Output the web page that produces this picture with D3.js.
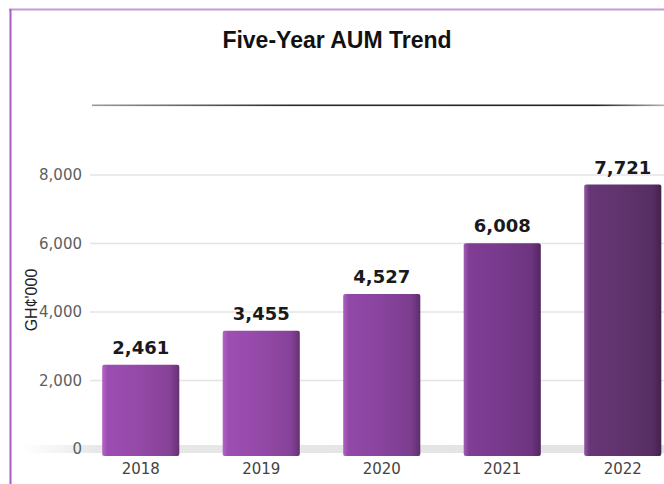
<!DOCTYPE html>
<html>
<head>
<meta charset="utf-8">
<script src="https://cdn.jsdelivr.net/npm/d3@7"></script>
<style>
  body { margin: 0; background: #fff; }
  svg { display: block; }
</style>
</head>
<body>
<div id="chart"></div>
<script>
// data
const years = ["2018", "2019", "2020", "2021", "2022"];
const aum = [2461, 3455, 4527, 6008, 7721];
const yTicks = [0, 2000, 4000, 6000, 8000];

// bar tones get darker to the right
const barTones = ["#9549a8", "#954aa9", "#8a449f", "#793a8d", "#61336f"];

const width = 664;
const height = 484;
const margin = { top: 175, bottom: 35, left: 90, right: 0 };

const svg = d3.select("#chart")
  .append("svg")
  .attr("width", width)
  .attr("height", height);

const defs = svg.append("defs");

// x and y scales
const x = d3.scaleBand()
  .domain(years)
  .range([80.5, 683])
  .paddingInner(0.36)
  .paddingOuter(0.18);

const y = d3.scaleLinear()
  .domain([0, 8000])
  .range([height - margin.bottom, margin.top]);

// frame lines (top and left)
svg.append("line")
  .attr("x1", 9).attr("x2", width)
  .attr("y1", 9.5).attr("y2", 9.5)
  .attr("stroke", "#c39bd0").attr("stroke-width", 2);
svg.append("line")
  .attr("x1", 10.5).attr("x2", 10.5)
  .attr("y1", 9).attr("y2", height)
  .attr("stroke", "#a65ec2").attr("stroke-width", 2);

// title
svg.append("text")
  .attr("x", 337)
  .attr("y", 48)
  .attr("text-anchor", "middle")
  .attr("font-family", "Liberation Sans, Arial, sans-serif")
  .attr("font-weight", "bold")
  .attr("font-size", "23px")
  .attr("fill", "#111")
  .text("Five-Year AUM Trend");

// separator line under title
const sep = defs.append("linearGradient").attr("id", "sep");
sep.append("stop").attr("offset", "0%").attr("stop-color", "#9a9a9a");
sep.append("stop").attr("offset", "35%").attr("stop-color", "#2a2a2a");
sep.append("stop").attr("offset", "88%").attr("stop-color", "#222");
sep.append("stop").attr("offset", "100%").attr("stop-color", "#b0b0b0");
svg.append("rect")
  .attr("x", 92).attr("y", 104.5)
  .attr("width", width - 92).attr("height", 1.6)
  .attr("fill", "url(#sep)");

// grid lines
svg.append("g")
  .selectAll("line")
  .data(yTicks.filter(d => d > 0))
  .join("line")
  .attr("x1", margin.left).attr("x2", width)
  .attr("y1", d => y(d)).attr("y2", d => y(d))
  .attr("stroke", "#e4e4e4")
  .attr("stroke-width", 1.5);

// floor shadow
const floor = defs.append("linearGradient").attr("id", "floor");
floor.append("stop").attr("offset", "0%").attr("stop-color", "#dcdcdc").attr("stop-opacity", 0);
floor.append("stop").attr("offset", "12%").attr("stop-color", "#d8d8d8").attr("stop-opacity", 1);
floor.append("stop").attr("offset", "100%").attr("stop-color", "#d0d0d0").attr("stop-opacity", 1);
svg.append("rect")
  .attr("x", 20).attr("y", y(0) - 4)
  .attr("width", width - 20).attr("height", 8)
  .attr("fill", "url(#floor)")
  .attr("opacity", 0.6);

// one gradient per bar for the shaded look
barTones.forEach((c, i) => {
  const g = defs.append("linearGradient").attr("id", "bar" + i);
  const base = d3.color(c);
  g.append("stop").attr("offset", "0%").attr("stop-color", d3.interpolateRgb(c, "#e090f0")(0.4));
  g.append("stop").attr("offset", "7%").attr("stop-color", base.brighter(0.15));
  g.append("stop").attr("offset", "45%").attr("stop-color", c);
  g.append("stop").attr("offset", "88%").attr("stop-color", base.darker(0.3));
  g.append("stop").attr("offset", "100%").attr("stop-color", base.darker(1.1));
});

const depth = 7;

svg.append("g")
  .selectAll("rect")
  .data(aum)
  .join("rect")
  .attr("x", (d, i) => x(years[i]))
  .attr("y", d => y(d))
  .attr("width", x.bandwidth())
  .attr("height", d => y(0) - y(d) + depth)
  .attr("rx", 2)
  .attr("fill", (d, i) => `url(#bar${i})`);

// value labels
svg.append("g")
  .selectAll("text")
  .data(aum)
  .join("text")
  .attr("x", (d, i) => x(years[i]) + x.bandwidth() / 2)
  .attr("y", d => y(d) - 11)
  .attr("text-anchor", "middle")
  .attr("font-family", "DejaVu Sans, sans-serif")
  .attr("font-weight", "bold")
  .attr("font-size", "18px")
  .attr("fill", "#1a1a1a")
  .text(d => d3.format(",")(d));

// y axis
function yAxis(g) {
  g.attr("transform", `translate(82, 0)`)
    .call(d3.axisLeft(y).tickValues(yTicks).tickFormat(d3.format(",")).tickSize(0).tickPadding(0))
    .call(g => g.select(".domain").remove())
    .selectAll("text")
    .attr("font-family", "DejaVu Sans, sans-serif")
    .attr("font-size", "15px")
    .attr("fill", "#5e5e5e");
}

// x axis
function xAxis(g) {
  g.attr("transform", `translate(0, ${y(0) + depth + 4})`)
    .call(d3.axisBottom(x).tickSize(0).tickPadding(0))
    .call(g => g.select(".domain").remove())
    .selectAll("text")
    .attr("dy", "0.9em")
    .attr("font-family", "DejaVu Sans, sans-serif")
    .attr("font-size", "15px")
    .attr("fill", "#444");
}

svg.append("g").call(yAxis);
svg.append("g").call(xAxis);

// y axis title
svg.append("text")
  .attr("transform", `translate(37, ${y(4000) - 12}) rotate(-90)`)
  .attr("text-anchor", "middle")
  .attr("font-family", "Liberation Sans, Arial, sans-serif")
  .attr("font-size", "16px")
  .attr("fill", "#222")
  .text("GH¢'000");
</script>
</body>
</html>
